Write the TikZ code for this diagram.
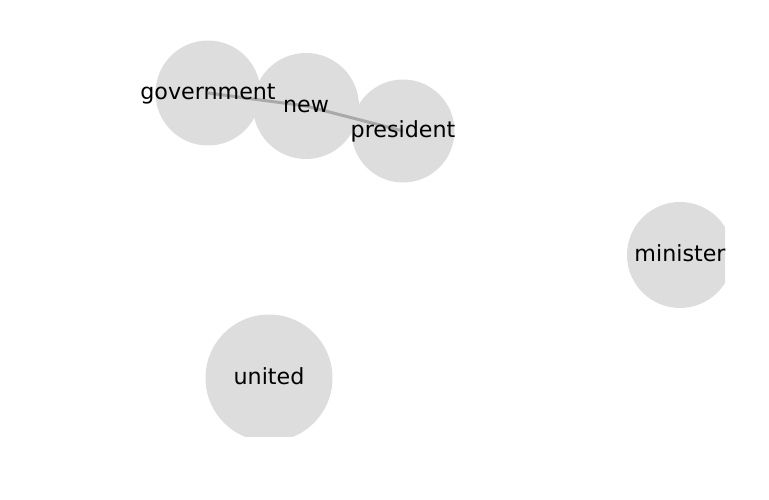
\documentclass[tikz,border=0pt]{standalone}
\usepackage{fontspec}
\setmainfont{DejaVu Sans}
\definecolor{nodegray}{HTML}{DDDDDD}
\begin{document}
\begin{tikzpicture}[x=1pt, y=-1pt,
  wordnode/.style={circle, fill=nodegray, inner sep=0pt, minimum size=#1},
  wordlabel/.style={inner sep=0pt, text height=12.1pt, text depth=0pt, font=\fontsize{22.2}{26}\selectfont},
  link/.style={black, opacity=0.23, line width=3pt}]
  \useasboundingbox (0,0) rectangle (769,500);
  \begin{scope}
    \clip (20,10) rectangle (725,436);
    % Kreise
    \node[wordnode=105pt] (government) at (208,93)  {};
    \node[wordnode=106pt] (new)        at (306,106) {};
    \node[wordnode=103pt] (president)  at (403,131) {};
    \node[wordnode=106pt] (minister)   at (680,255) {};
    \node[wordnode=127pt] (united)     at (269,378) {};
    % Kanten
    \draw[link] (government.center) -- (new.center);
    \draw[link] (new.center) -- (president.center);
    % Beschriftungen
    \foreach \w in {government, new, president, minister, united}{
      \node[wordlabel] at (\w) {\w};
    }
  \end{scope}
\end{tikzpicture}
\end{document}
